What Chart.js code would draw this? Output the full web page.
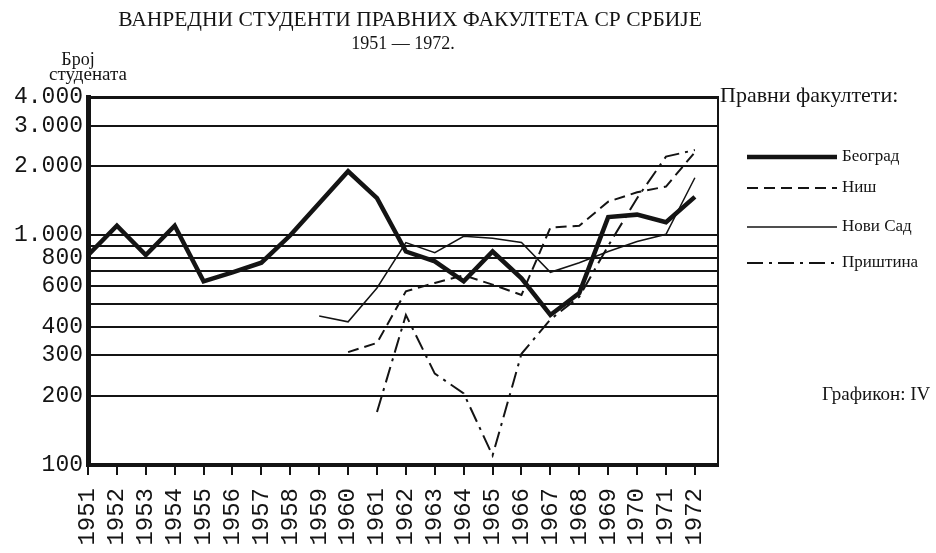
<!DOCTYPE html>
<html lang="sr">
<head>
<meta charset="UTF-8">
<title>Ванредни студенти правних факултета СР Србије</title>
<script src="https://cdn.jsdelivr.net/npm/chart.js"></script>
<style>
  html, body { margin: 0; padding: 0; background: #fff; }
</style>
</head>
<body>
<canvas id="chart" width="936" height="553"></canvas>
<script>
// years on the x axis
const years = [1951, 1952, 1953, 1954, 1955, 1956, 1957, 1958, 1959, 1960, 1961,
               1962, 1963, 1964, 1965, 1966, 1967, 1968, 1969, 1970, 1971, 1972];

// number of part-time students per faculty
const beograd  = [820, 1100, 820, 1100, 630, 690, 760, 1000, 1380, 1900, 1450,
                  850, 770, 630, 850, 650, 450, 560, 1200, 1230, 1140, 1470];
const nis      = [null, null, null, null, null, null, null, null, null, 310, 340,
                  570, 620, 670, 610, 550, 1080, 1100, 1400, 1540, 1630, 2300];
const noviSad  = [null, null, null, null, null, null, null, null, 445, 420, 590,
                  930, 840, 990, 970, 930, 690, 760, 850, 940, 1010, 1780];
const pristina = [null, null, null, null, null, null, null, null, null, null, 170,
                  450, 250, 205, 110, 305, 430, 540, 900, 1450, 2200, 2350];

const seriesNames = ['Београд', 'Ниш', 'Нови Сад', 'Приштина'];

// horizontal rules and the ones that carry a label
const yTicks = [100, 200, 300, 400, 500, 600, 700, 800, 900, 1000, 2000, 3000, 4000];
const yTickLabels = { 100: '100', 200: '200', 300: '300', 400: '400', 600: '600',
                      800: '800', 1000: '1.000', 2000: '2.000', 3000: '3.000', 4000: '4.000' };

const ink = '#141414';
const toPoints = vals => years.map((x, i) => ({ x: x, y: vals[i] })).filter(p => p.y !== null);

// titles, axis caption and the hand-made legend on the right
const paperText = {
    id: 'paperText',
    afterDraw(chart) {
        const ctx = chart.ctx;
        ctx.save();
        ctx.fillStyle = ink;
        ctx.textBaseline = 'middle';

        ctx.textAlign = 'center';
        ctx.font = '21.5px "Liberation Serif"';
        ctx.fillText('ВАНРЕДНИ СТУДЕНТИ ПРАВНИХ ФАКУЛТЕТА СР СРБИЈЕ', 410, 20);
        ctx.font = '18px "Liberation Serif"';
        ctx.fillText('1951 — 1972.', 403, 44);

        ctx.font = '18px "Liberation Serif"';
        ctx.fillText('Број', 78, 60);
        ctx.font = '19px "Liberation Serif"';
        ctx.fillText('студената', 88, 75);

        ctx.textAlign = 'left';
        ctx.font = '22px "Liberation Serif"';
        ctx.fillText('Правни факултети:', 720, 96);

        const rows = [157, 188, 227, 263];
        chart.data.datasets.forEach((ds, i) => {
            ctx.save();
            ctx.strokeStyle = ink;
            ctx.lineWidth = ds.borderWidth;
            ctx.setLineDash(ds.borderDash || []);
            ctx.beginPath();
            ctx.moveTo(747, rows[i]);
            ctx.lineTo(837, rows[i]);
            ctx.stroke();
            ctx.restore();
            ctx.font = '17px "Liberation Serif"';
            ctx.fillText(ds.label, 842, rows[i]);
        });

        ctx.font = '19px "Liberation Serif"';
        ctx.fillText('Графикон: IV', 822, 395);
        ctx.restore();
    }
};

new Chart(document.getElementById('chart').getContext('2d'), {
    type: 'line',
    data: {
        datasets: [
            { label: seriesNames[0], data: toPoints(beograd), borderColor: ink, borderWidth: 4.5 },
            { label: seriesNames[1], data: toPoints(nis), borderColor: ink, borderWidth: 2, borderDash: [11, 6] },
            { label: seriesNames[2], data: toPoints(noviSad), borderColor: ink, borderWidth: 1.5 },
            { label: seriesNames[3], data: toPoints(pristina), borderColor: ink, borderWidth: 2, borderDash: [16, 6, 3, 6] }
        ]
    },
    options: {
        responsive: false,
        animation: false,
        devicePixelRatio: 1,
        layout: { padding: { top: 97, right: 218, left: 0, bottom: 0 } },
        elements: { point: { radius: 0 }, line: { tension: 0, fill: false } },
        plugins: { legend: { display: false }, title: { display: false }, tooltip: { enabled: false } },
        scales: {
            x: {
                type: 'linear',
                min: 1951,
                max: 1972.8,
                afterBuildTicks: s => { s.ticks = years.map(v => ({ value: v })); },
                afterFit: s => { s.height = 88; },
                ticks: {
                    autoSkip: false,
                    minRotation: 90,
                    maxRotation: 90,
                    padding: 13,
                    color: ink,
                    font: { family: 'Liberation Mono', size: 24 },
                    callback: v => String(v)
                },
                grid: { display: true, drawOnChartArea: false, drawTicks: true, tickLength: 10, lineWidth: 2, color: ink },
                border: { display: true, width: 4, color: ink }
            },
            y: {
                type: 'logarithmic',
                min: 100,
                max: 4000,
                afterBuildTicks: s => { s.ticks = yTicks.map(v => ({ value: v })); },
                afterFit: s => { s.width = 88; },
                ticks: {
                    autoSkip: false,
                    padding: 5,
                    color: ink,
                    font: { family: 'Liberation Mono', size: 23 },
                    callback: v => yTickLabels[v] || ''
                },
                grid: {
                    color: ink,
                    drawTicks: false,
                    lineWidth: c => (c.tick && c.tick.value === 4000 ? 3 : 2)
                },
                border: { display: true, width: 5, color: ink }
            },
            yRight: {
                type: 'linear',
                position: 'right',
                display: true,
                afterFit: s => { s.width = 0; },
                ticks: { display: false },
                grid: { display: false },
                border: { display: true, width: 2, color: ink }
            }
        }
    },
    plugins: [paperText]
});
</script>
</body>
</html>
